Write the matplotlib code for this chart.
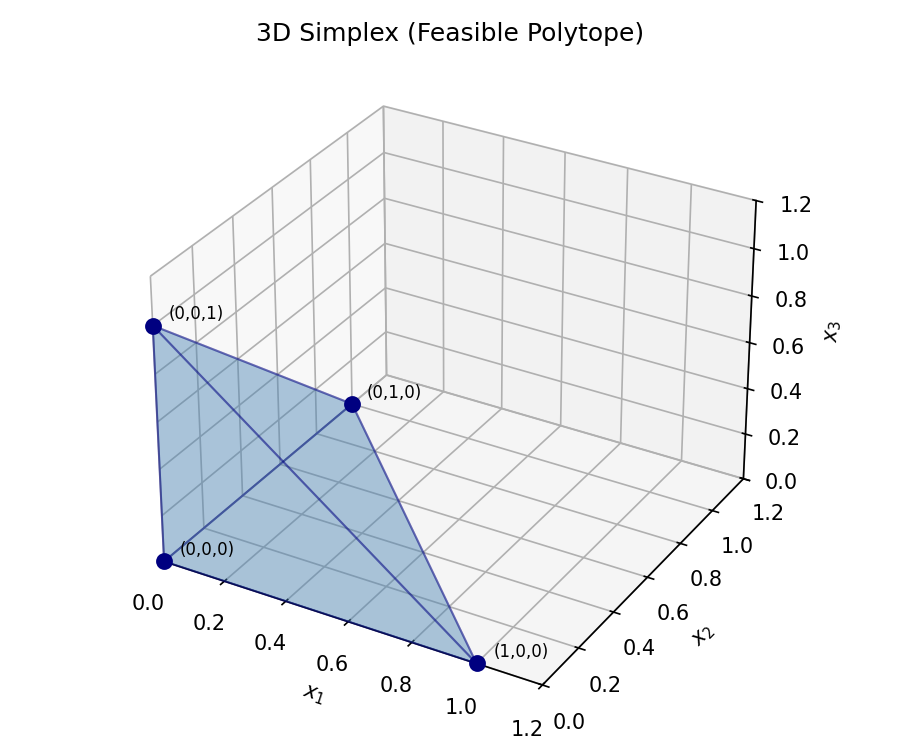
import numpy as np
import matplotlib
matplotlib.use("Agg")
import matplotlib.pyplot as plt
from mpl_toolkits.mplot3d.art3d import Poly3DCollection
from matplotlib.colors import to_rgba

# vertices of the simplex
verts = np.array([[0, 0, 0], [1, 0, 0], [0, 1, 0], [0, 0, 1]])
labels = ["(0,0,0)", "(1,0,0)", "(0,1,0)", "(0,0,1)"]
faces_idx = [[0, 1, 2], [0, 1, 3], [0, 2, 3], [1, 2, 3]]

fig = plt.figure(figsize=(6, 5), dpi=150)
ax = fig.add_subplot(111, projection="3d")

faces = [verts[f] for f in faces_idx]
poly = Poly3DCollection(faces, facecolor=to_rgba("steelblue", 0.25),
                        edgecolor=to_rgba("navy", 0.35), linewidths=1)
ax.add_collection3d(poly)

ax.scatter(verts[:, 0], verts[:, 1], verts[:, 2], color="navy", s=50,
           depthshade=False)
for (x, y, z), lab in zip(verts, labels):
    ax.text(x + 0.04, y + 0.02, z + 0.03, lab, fontsize=8)

ax.set_xlim(0, 1.2)
ax.set_ylim(0, 1.2)
ax.set_zlim(0, 1.2)
ax.set_xlabel("$x_1$")
ax.set_ylabel("$x_2$")
ax.set_zlabel("$x_3$")
ax.set_title("3D Simplex (Feasible Polytope)")

fig.tight_layout()
plt.savefig("out.png", dpi=150)
